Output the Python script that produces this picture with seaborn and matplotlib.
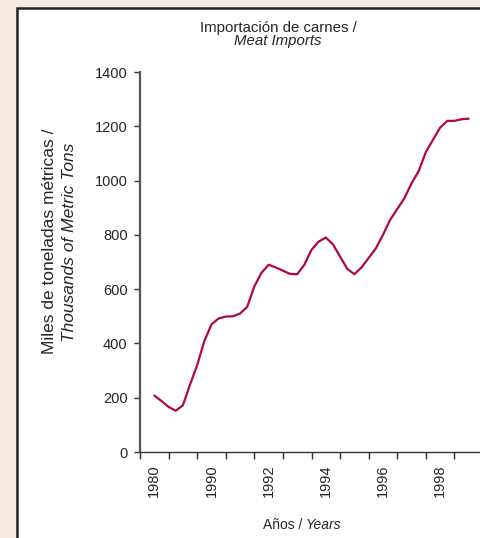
import matplotlib
matplotlib.use("Agg")
import matplotlib.pyplot as plt
import pandas as pd
import seaborn as sns
from matplotlib.patches import Rectangle

# category slots on the x axis (labels shown on every other slot)
year_labels = ["1980", "1990", "1992", "1994", "1996", "1998"]
label_slots = [0, 2, 4, 6, 8, 10]

# quarterly readings, position in category slots
slot = [
    0.0, 0.25, 0.5, 0.75, 1.0, 1.25, 1.5, 1.75, 2.0, 2.25, 2.5, 2.75,
    3.0, 3.25, 3.5, 3.75, 4.0, 4.25, 4.5, 4.75, 5.0, 5.25, 5.5, 5.75,
    6.0, 6.25, 6.5, 6.75, 7.0, 7.25, 7.5, 7.75, 8.0, 8.25, 8.5, 8.75,
    9.0, 9.25, 9.5, 9.75, 10.0, 10.25, 10.5, 10.75, 11.0,
]
imports = [
    208, 188, 166, 152, 172, 248, 320, 408, 470, 492, 499, 500,
    510, 535, 610, 660, 690, 680, 668, 656, 655, 690, 745, 775,
    790, 765, 720, 675, 655, 680, 715, 750, 800, 855, 895, 935,
    990, 1035, 1105, 1150, 1195, 1220, 1220, 1226, 1228,
]

df = pd.DataFrame({"slot": slot, "imports": imports})

sns.set_style("white")
plt.rcParams["font.family"] = ["Liberation Sans", "DejaVu Sans"]

fig = plt.figure(figsize=(4.8, 5.38), dpi=100)
fig.patch.set_facecolor("#f4eadf")

# white panel with dark frame
panel = Rectangle((17 / 480, -0.1), 1.2, 1.1 - 8 / 538,
                  transform=fig.transFigure, facecolor="white",
                  edgecolor="#222222", linewidth=1.8, zorder=-5)
fig.patches.append(panel)

ax = fig.add_axes([140 / 480, 1 - 452 / 538, 343 / 480, 380 / 538])
ax.set_facecolor("none")
ax.set_zorder(2)

sns.lineplot(data=df, x="slot", y="imports", ax=ax, color="#b0083f",
             linewidth=1.6)

ax.set_xlim(-0.5, 11.5)
ax.set_ylim(0, 1400)
ax.set_yticks(range(0, 1401, 200))
ax.set_xticks([s - 0.5 for s in range(13)])
ax.set_xticklabels([])
ax.set_xticks(label_slots, minor=True)
ax.set_xticklabels(year_labels, minor=True, rotation=90, fontsize=10.5)
ax.tick_params(axis="x", which="minor", length=0, pad=9)
ax.tick_params(axis="x", which="major", length=5, width=1, color="#333333",
               direction="out")
ax.tick_params(axis="y", length=4, width=1, color="#333333", direction="out",
               labelsize=10.5, pad=5)
ax.tick_params(axis="both", which="both", bottom=True, left=True)

for side in ["top", "right"]:
    ax.spines[side].set_visible(False)
ax.spines["left"].set_color("#555555")
ax.spines["left"].set_linewidth(1.6)
ax.spines["bottom"].set_color("#333333")
ax.spines["bottom"].set_linewidth(1.0)

ax.set_xlabel("")
ax.set_ylabel("")

fig.text(278 / 480, 1 - 28 / 538, "Importación de carnes /", ha="center",
         va="center", fontsize=10.8)
fig.text(278 / 480, 1 - 41 / 538, "Meat Imports", ha="center", va="center",
         fontsize=10.8, style="italic")
fig.text(50 / 480, 1 - 241 / 538, "Miles de toneladas métricas /",
         ha="center", va="center", rotation=90, fontsize=12.5)
fig.text(70 / 480, 1 - 242 / 538, "Thousands of Metric Tons", ha="center",
         va="center", rotation=90, fontsize=12.5, style="italic")
fig.text(306 / 480, 1 - 525 / 538, "Años / ", ha="right", va="center",
         fontsize=10)
fig.text(306 / 480, 1 - 525 / 538, "Years", ha="left", va="center",
         fontsize=10, style="italic")

fig.savefig("out.png", dpi=100, facecolor=fig.get_facecolor())
